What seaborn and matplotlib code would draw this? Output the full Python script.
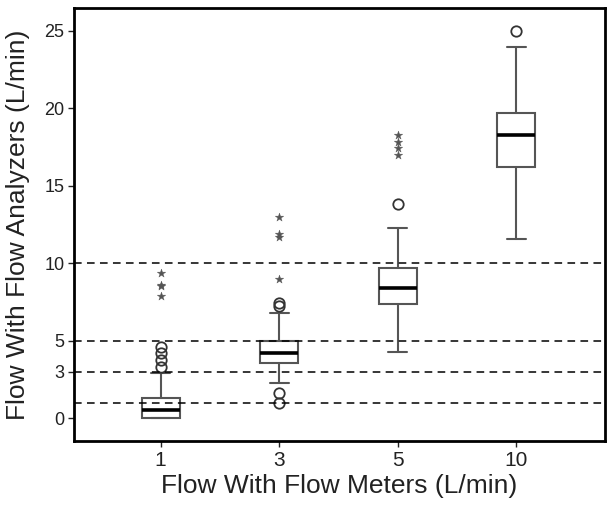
import matplotlib
matplotlib.use("Agg")
import matplotlib.pyplot as plt
import seaborn as sns
import numpy as np

sns.set_style("ticks")
plt.rcParams['font.family'] = ['Liberation Sans', 'DejaVu Sans']

categories = ["1", "3", "5", "10"]
q1 = [0.0, 3.57, 7.35, 16.2]
median = [0.52, 4.17, 8.4, 18.28]
q3 = [1.29, 4.94, 9.7, 19.7]
whisker_low = [0.0, 2.28, 4.24, 11.55]
whisker_high = [2.9, 6.75, 12.28, 23.95]
outliers = [[3.3, 3.74, 4.19, 4.58],
            [7.22, 7.44, 1.59, 0.95],
            [13.8],
            [25.0]]
extremes = [[9.35, 8.6, 8.5, 7.85],
            [12.95, 11.9, 11.7, 8.95],
            [18.26, 17.83, 17.4, 16.97],
            []]
ref_lines = [1, 3, 5, 10]
yticks = [0, 3, 5, 10, 15, 20, 25]

fig = plt.figure(figsize=(6.07, 5.08), dpi=100)
ax = fig.add_axes([0.122, 0.132, 0.875, 0.852])

for r in ref_lines:
    ax.axhline(r, color="black", lw=1.1, ls=(0, (5, 3.5)), zorder=3)

stats = []
for i, c in enumerate(categories):
    stats.append(dict(label=c, q1=q1[i], med=median[i], q3=q3[i],
                      whislo=whisker_low[i], whishi=whisker_high[i],
                      fliers=outliers[i]))

grey = "#555555"
ax.bxp(stats, positions=range(len(categories)), widths=0.32,
       patch_artist=True, manage_ticks=False,
       boxprops=dict(facecolor="none", edgecolor=grey, lw=1.5),
       whiskerprops=dict(color=grey, lw=1.5),
       capprops=dict(color=grey, lw=1.5),
       capwidths=0.16,
       medianprops=dict(color="black", lw=2.6),
       flierprops=dict(marker="o", markerfacecolor="none",
                       markeredgecolor="#333333", markersize=7.5, mew=1.3),
       zorder=2)

xs, ys = [], []
for i, vals in enumerate(extremes):
    for v in vals:
        xs.append(i)
        ys.append(v)
sns.scatterplot(x=xs, y=ys, ax=ax, marker="*", s=40, color="#555555",
                edgecolor="#555555", linewidth=0.3, zorder=4, legend=False)

ax.set_xlim(-0.73, 3.75)
ax.set_ylim(-1.48, 26.45)
ax.set_xticks(range(len(categories)))
ax.set_xticklabels(categories)
ax.set_yticks(yticks)
ax.tick_params(axis="x", labelsize=15, colors="#222222", length=4, width=1, pad=3)
ax.tick_params(axis="y", labelsize=13, colors="#222222", length=4, width=1, pad=3)
for s in ax.spines.values():
    s.set_linewidth(2)
    s.set_color("black")
ax.set_xlabel("Flow With Flow Meters (L/min)", fontsize=19, color="#222222", labelpad=3)
ax.set_ylabel("Flow With Flow Analyzers (L/min)", fontsize=19, color="#222222", labelpad=10)

fig.savefig("out.png", dpi=100)
